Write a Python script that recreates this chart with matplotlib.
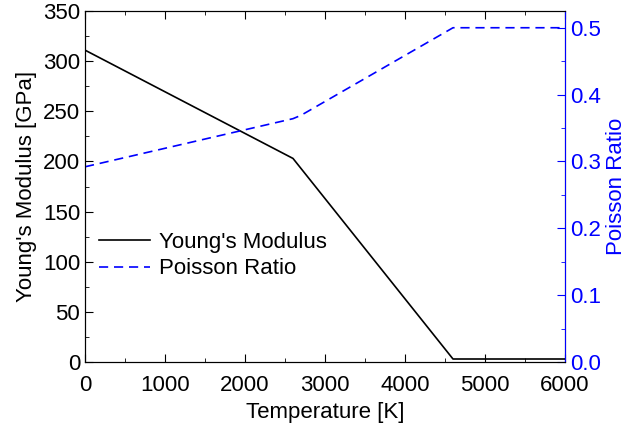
import matplotlib
matplotlib.use('Agg')
import matplotlib.pyplot as plt
from matplotlib.ticker import MultipleLocator, FormatStrFormatter

plt.rcParams['font.family'] = ['Liberation Sans', 'DejaVu Sans']
fs = 16

# Young's modulus vs temperature
t_ym = [0, 2600, 2660, 4600, 6000]
ym = [311, 203, 197, 3, 3]

# Poisson ratio vs temperature
t_pr = [0, 2600, 2700, 4600, 6000]
pr = [0.292, 0.364, 0.369, 0.5, 0.5]

fig = plt.figure(figsize=(6.27, 4.36), dpi=100)
ax1 = fig.add_axes([0.1356, 0.1697, 0.7655, 0.805])
ax2 = ax1.twinx()

l1, = ax1.plot(t_ym, ym, color='black', lw=1.2, label="Young's Modulus")
l2, = ax2.plot(t_pr, pr, color='blue', lw=1.2, ls=(0, (5.5, 3.5)), label='Poisson Ratio')

ax1.set_xlim(0, 6000)
ax1.set_ylim(0, 350)
ax2.set_ylim(0, 0.525)

ax1.xaxis.set_major_locator(MultipleLocator(1000))
ax1.xaxis.set_minor_locator(MultipleLocator(500))
ax1.yaxis.set_major_locator(MultipleLocator(50))
ax1.yaxis.set_minor_locator(MultipleLocator(25))
ax2.yaxis.set_major_locator(MultipleLocator(0.1))
ax2.yaxis.set_minor_locator(MultipleLocator(0.05))
ax2.yaxis.set_major_formatter(FormatStrFormatter('%.1f'))

ax1.tick_params(axis='both', which='both', direction='in', top=True, labelsize=fs)
ax1.tick_params(which='major', length=6)
ax1.tick_params(which='minor', length=3)
ax1.tick_params(axis='x', pad=9)
ax2.tick_params(axis='y', which='both', direction='in', colors='blue', labelsize=fs)
ax2.tick_params(which='major', length=6)
ax2.tick_params(which='minor', length=3)
ax2.spines['right'].set_color('blue')

ax1.set_xlabel('Temperature [K]', fontsize=fs, labelpad=5)
ax1.set_ylabel("Young's Modulus [GPa]", fontsize=fs)
ax2.set_ylabel('Poisson Ratio', fontsize=fs, color='blue', labelpad=4)

ax1.legend([l1, l2], [l1.get_label(), l2.get_label()], frameon=False,
           loc='center left', bbox_to_anchor=(0.006, 0.303), fontsize=fs,
           handlelength=2.3, handletextpad=0.4, labelspacing=0.25, borderpad=0)

fig.savefig('out.png', dpi=100)
